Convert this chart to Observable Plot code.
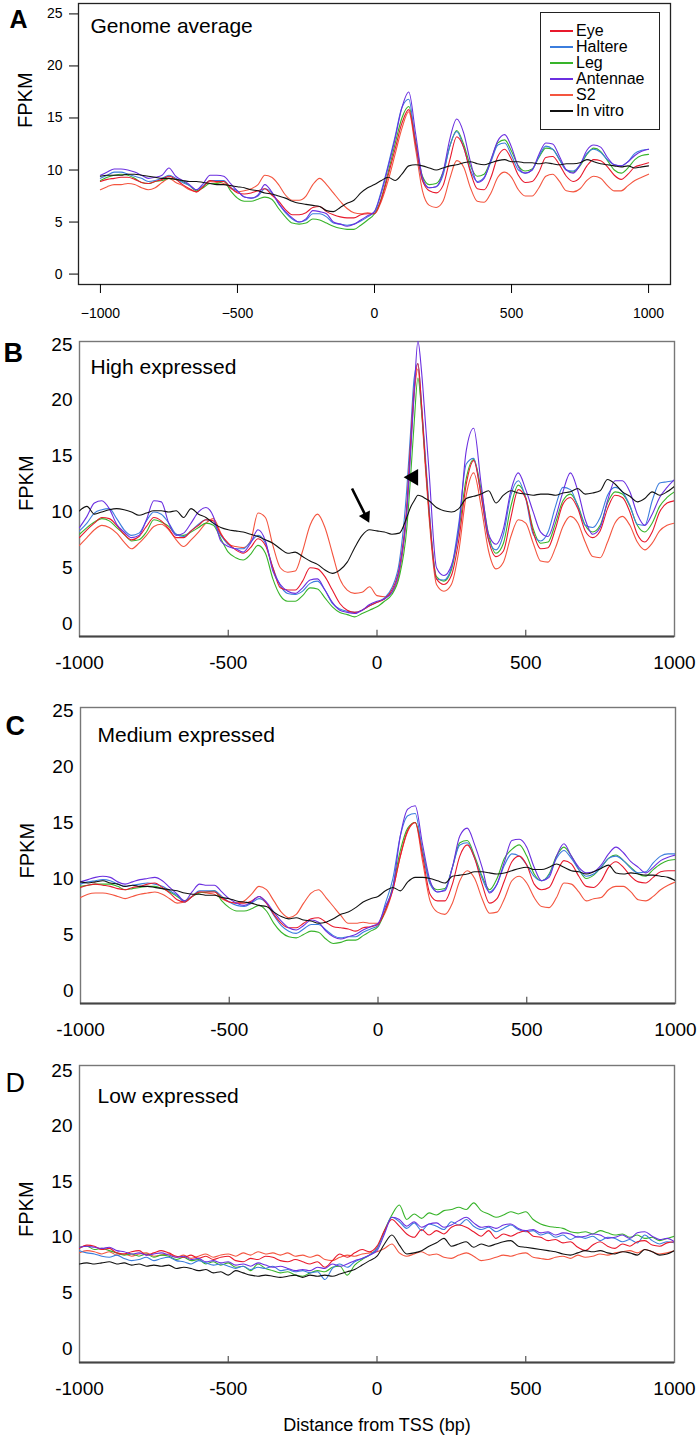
<!DOCTYPE html>
<html><head><meta charset="utf-8">
<script src="https://cdn.jsdelivr.net/npm/d3@7"></script>
<script src="https://cdn.jsdelivr.net/npm/@observablehq/plot@0.6"></script>
<style>
body{margin:0;background:#fff;font-family:"Liberation Sans",Arial,sans-serif;}
#root{position:relative;width:700px;height:1440px;overflow:hidden;}
.panel{position:absolute;left:0;}
.legend{position:absolute;left:540px;top:12px;width:120px;height:118px;border:1.2px solid #222;box-sizing:border-box;background:#fff;}
.legend .row{position:absolute;left:9px;height:16px;font-size:16px;line-height:16px;color:#000;white-space:nowrap;}
.legend .sw{position:absolute;left:0;top:7px;width:23px;height:1.6px;}
.legend .tx{position:absolute;left:26px;top:0;}
</style></head><body><div id="root"></div>
<script>
// ---------- data ----------
const seriesNames = ["Eye","Haltere","Leg","Antennae","S2","In vitro"];
const seriesColors = ["#e8192c","#3b7ddd","#38b42a","#6b2fe0","#f4553f","#111111"];

const positions = [-1000,-975,-950,-925,-900,-875,-850,-825,-800,-775,-750,-725,-700,-675,-650,-625,-600,-575,-550,-525,-500,-475,-450,-425,-400,-375,-350,-325,-300,-275,-250,-225,-200,-175,-150,-125,-100,-75,-50,-25,0,25,50,75,100,125,150,175,200,225,250,275,300,325,350,375,400,425,450,475,500,525,550,575,600,625,650,675,700,725,750,775,800,825,850,875,900,925,950,975,1000];
const positionsB = [-1000,-975,-950,-925,-900,-875,-850,-825,-800,-775,-750,-725,-700,-675,-650,-625,-600,-575,-550,-525,-500,-475,-450,-425,-400,-375,-350,-325,-300,-275,-250,-225,-200,-175,-150,-125,-100,-75,-50,-25,0,25,50,75,100,112.5,125,137.5,150,162.5,175,200,225,250,275,300,325,350,375,400,425,450,475,500,525,550,575,600,625,650,675,700,725,750,775,800,825,850,875,900,925,950,975,1000];

// Panel A: Genome average
const A_eye = [8.9,9.1,9.2,9.3,9.3,9.1,8.8,8.7,8.9,9.1, 9.4,9.1,8.6,8.2,7.9,8.4,9.0,8.9,8.9,8.3, 7.8,7.7,7.8,8.0,8.2,7.6,7.0,6.2,5.7,5.7, 5.9,6.4,6.5,6.0,5.7,5.5,5.4,5.4,5.7,5.8, 5.8,7.2,9.5,12.0,14.5,15.8,12.5,9.0,8.0,7.8, 8.5,11.0,13.2,12.2,9.8,8.2,8.1,9.3,11.3,12.0, 11.0,9.5,8.8,8.9,9.8,11.2,11.3,10.5,9.4,8.9, 9.3,10.4,11.0,10.9,10.3,9.5,9.1,9.6,10.3,10.5, 10.7];
const A_haltere = [9.2,9.5,9.8,9.8,9.6,9.4,9.2,8.9,9.0,9.2, 9.5,9.2,8.8,8.5,8.1,8.5,9.0,9.0,9.0,8.3, 8.0,7.4,7.3,7.5,8.2,7.8,6.8,5.9,5.3,5.0, 5.2,5.8,5.8,5.5,4.9,4.8,4.7,4.8,5.1,5.5, 6.0,8.0,10.5,13.2,16.0,16.8,12.5,9.0,8.3,8.4, 9.5,12.3,13.7,12.2,10.0,8.9,9.3,10.8,12.4,12.6, 11.4,10.0,9.7,10.0,11.3,12.3,12.0,11.0,10.0,9.9, 10.5,11.6,12.0,11.7,11.0,10.5,10.4,10.8,11.6,11.9, 12.0];
const A_leg = [9.0,9.3,9.5,9.6,9.5,9.2,8.8,8.7,8.9,9.0, 9.2,9.1,8.9,8.5,8.0,8.3,8.7,8.7,8.9,8.0, 7.3,7.0,7.0,7.2,7.4,7.2,6.3,5.5,4.9,4.8, 4.9,5.3,5.2,4.9,4.6,4.4,4.3,4.3,4.7,5.2, 5.8,7.3,9.8,12.5,15.0,16.1,12.8,9.4,8.6,8.7, 9.8,12.3,13.8,12.5,10.4,9.4,9.6,11.0,12.6,12.9, 11.8,10.4,9.9,10.1,11.2,12.1,12.0,11.0,10.0,9.8, 10.4,11.5,12.1,11.8,10.9,10.0,9.7,10.2,11.0,11.4, 11.5];
const A_antennae = [9.5,9.8,10.1,10.1,10.0,9.8,9.5,9.2,9.3,9.5, 10.2,9.4,9.0,8.6,8.1,8.7,9.5,9.5,9.4,8.7, 8.0,7.4,7.3,7.6,8.6,7.9,6.8,6.0,5.4,5.0, 5.3,6.1,6.0,5.8,5.0,4.8,4.6,4.8,5.2,5.6, 6.0,7.8,10.3,13.0,16.0,17.5,13.5,9.3,8.3,8.4, 9.8,13.0,14.9,13.6,10.8,8.8,9.2,11.0,12.8,13.4, 12.2,10.3,9.7,10.0,11.5,12.6,12.5,11.3,10.0,9.7, 10.5,11.9,12.4,12.2,11.2,10.5,10.4,10.8,11.4,11.8, 12.0];
const A_s2 = [8.1,8.4,8.6,8.6,8.7,8.6,8.3,8.1,8.3,8.8, 9.2,8.8,8.5,8.1,7.9,8.4,8.9,8.8,8.7,8.3, 7.9,8.0,8.2,8.6,9.5,9.3,8.6,7.6,7.1,7.1, 7.5,8.6,9.2,8.6,7.8,7.0,6.3,5.9,5.8,5.9, 5.8,7.0,9.0,11.5,14.0,15.6,12.0,8.0,6.6,6.4, 7.0,9.2,10.9,10.3,8.3,7.0,6.9,7.8,9.3,9.8, 9.3,8.1,7.5,7.5,8.3,9.4,9.6,8.9,8.0,7.9, 8.2,9.0,9.4,9.2,8.5,8.0,8.0,8.5,9.0,9.3, 9.6];
const A_invitro = [9.4,9.5,9.5,9.5,9.6,9.6,9.5,9.4,9.3,9.2, 9.2,9.1,9.0,8.9,8.9,8.8,8.7,8.6,8.6,8.5, 8.4,8.3,8.1,8.0,7.8,7.7,7.5,7.3,7.0,6.8, 6.7,6.6,6.5,6.1,6.0,6.4,6.8,7.1,7.8,8.3, 8.6,9.0,9.3,9.0,9.6,10.4,10.5,10.4,10.2,10.0, 10.2,10.4,10.5,10.7,10.8,10.6,10.5,10.7,10.9,11.0, 10.8,10.8,10.7,10.7,10.6,10.7,10.6,10.5,10.6,10.6, 10.7,11.0,10.8,10.6,10.5,10.4,10.3,10.4,10.2,10.3, 10.4];

// Panel B: High expressed (x = positionsB)
const B_eye = [7.7,8.4,9.0,9.5,9.4,8.8,8.0,7.5,7.8,8.7, 9.5,9.2,8.5,7.7,7.7,8.3,8.8,9.3,9.2,8.0, 7.2,6.6,6.3,6.8,7.6,7.0,5.0,3.2,3.0,3.0, 3.8,5.0,4.9,4.2,3.0,1.8,1.2,1.0,1.2,1.6, 1.9,2.2,3.0,5.0,10.5,16.0,21.0,23.3,19.5,14.5,10.0, 4.0,3.5,4.3,7.5,12.5,14.6,11.5,7.5,6.0,6.5, 9.5,12.0,11.2,8.2,6.7,6.8,8.5,10.7,11.3,10.3, 8.3,7.7,8.3,10.3,11.5,11.3,10.0,8.0,7.3,8.2, 10.0,10.8,11.0];
const B_haltere = [8.3,9.0,9.9,10.2,10.3,9.4,8.4,7.9,8.1,9.2, 10.0,9.8,9.0,8.0,7.8,8.3,8.9,9.3,9.0,7.9, 7.1,6.7,6.7,7.3,7.9,7.2,5.0,3.4,2.7,2.6, 2.9,3.6,3.8,3.0,1.8,1.3,1.1,1.0,1.2,1.6, 1.9,2.3,3.2,5.5,12.0,17.0,22.0,23.3,19.5,15.0,10.5, 4.0,3.9,5.0,9.0,14.3,14.8,11.5,7.5,6.6,8.0, 11.5,12.8,11.2,8.0,7.4,8.2,10.5,12.2,12.0,10.5, 8.8,8.6,9.5,11.5,12.2,11.8,10.6,8.9,8.8,11.0, 12.6,12.7,12.8];
const B_leg = [8.0,8.6,9.1,9.4,9.2,8.6,8.0,7.4,7.5,8.2, 9.3,9.1,8.7,8.0,7.9,8.2,8.6,9.0,8.8,7.6, 6.4,5.9,5.7,6.2,7.0,6.3,4.0,2.5,2.0,2.0, 2.5,3.2,3.1,2.3,1.5,1.0,0.8,0.6,0.9,1.2, 1.5,2.0,2.6,4.2,8.5,13.0,18.0,22.0,19.0,14.5,10.0, 4.2,3.8,4.8,8.3,13.0,14.7,12.0,8.0,6.3,7.2, 10.5,12.4,11.3,8.5,7.2,7.3,9.0,11.0,11.6,10.6, 8.8,8.2,8.8,10.8,11.8,11.6,10.5,8.8,8.2,9.0, 10.5,11.3,11.8];
const B_antennae = [8.6,9.6,10.8,11.0,10.3,8.9,8.2,7.7,7.9,9.3, 11.0,10.9,9.0,7.9,8.1,9.0,10.0,10.4,9.6,7.4, 6.9,6.7,6.4,7.2,8.4,7.4,4.7,3.5,2.9,2.7, 3.2,3.9,4.0,3.0,1.9,1.2,1.0,0.9,1.2,1.7, 2.0,2.2,2.8,4.8,10.0,15.1,20.7,25.3,22.5,18.1,13.6, 5.0,4.3,5.2,8.5,15.5,17.5,12.5,8.0,7.1,8.5, 11.9,13.5,12.0,10.0,8.2,7.8,9.5,11.8,13.5,11.9, 9.3,8.0,8.6,11.0,12.8,12.8,11.8,9.8,8.8,9.8, 11.3,12.2,12.9];
const B_s2 = [7.0,7.7,8.4,8.8,8.6,8.1,7.3,6.7,7.2,7.9, 8.7,8.9,8.4,7.5,6.9,7.5,8.2,9.0,9.4,8.1, 7.1,6.9,6.8,7.4,9.9,9.5,7.0,5.0,4.6,4.7, 6.5,8.8,9.8,8.6,6.3,4.0,3.0,2.7,2.8,3.3, 2.5,2.4,2.8,4.5,10.0,15.5,20.5,22.8,19.0,14.0,9.5, 3.5,2.9,3.5,6.5,11.5,13.5,10.5,6.5,4.9,5.5, 7.8,9.3,9.0,7.2,5.6,5.5,6.8,8.7,9.6,9.0, 7.3,6.0,5.9,7.3,9.0,9.6,8.8,7.3,6.6,7.2, 8.3,8.8,9.0];
const B_invitro = [10.1,10.5,9.8,10.0,10.2,10.3,10.2,10.0,9.7,9.9, 10.1,10.1,10.0,10.1,9.5,10.3,9.8,9.5,9.0,8.6, 8.4,8.3,8.2,8.0,7.8,7.5,7.2,6.7,6.3,6.4, 6.0,5.6,5.3,4.8,4.5,4.8,5.5,6.8,7.9,8.4, 8.3,8.2,8.0,8.1,9.5,10.4,11.0,11.5,11.4,11.2,11.0, 10.4,10.1,10.0,10.3,11.2,11.4,11.6,11.9,10.8,11.5, 11.9,11.7,11.6,11.5,11.6,11.6,11.5,11.7,11.8,12.1, 11.6,11.7,11.9,12.9,12.5,11.8,11.4,10.9,11.2,11.8, 11.5,11.8,12.3];

// Panel C: Medium expressed
const C_eye = [9.2,9.4,9.5,9.4,9.3,9.1,9.0,9.2,9.3,9.5, 9.6,9.2,8.7,8.1,7.9,8.4,8.8,8.8,8.8,8.3, 7.9,7.8,7.8,8.0,8.4,7.8,6.8,6.0,5.6,5.6, 6.0,6.4,6.5,6.1,5.7,5.6,5.5,5.3,5.6,5.7, 5.9,7.2,9.0,12.0,14.3,15.0,12.0,8.6,8.0,8.0, 9.5,12.0,13.0,11.8,9.5,7.8,8.2,9.8,11.5,12.0, 11.2,9.5,9.0,9.2,10.5,11.6,11.3,10.2,9.3,9.2, 9.8,11.0,11.5,11.0,10.2,9.7,9.6,10.1,10.6,10.7, 10.7];
const C_haltere = [9.5,9.7,9.8,9.9,9.8,9.5,9.3,9.4,9.5,9.6, 9.5,9.3,8.9,8.5,7.9,8.4,8.9,8.9,8.9,8.4, 7.9,7.6,7.5,7.8,8.2,7.8,6.7,5.8,5.3,5.1, 5.5,5.9,5.9,5.4,4.9,4.7,4.8,4.8,5.2,5.5, 5.8,7.8,10.0,13.8,15.6,15.8,12.3,9.5,8.8,9.0, 11.0,13.0,13.2,11.8,10.0,8.8,9.5,11.2,12.2,12.0, 11.2,10.2,9.8,10.3,11.8,12.5,11.8,10.8,10.2,10.4, 11.0,11.8,12.0,11.6,10.9,10.5,10.6,11.4,12.0,12.2, 12.2];
const C_leg = [9.3,9.4,9.5,9.5,9.5,9.3,9.0,9.1,9.2,9.3, 9.3,9.1,8.8,8.4,8.0,8.4,8.7,8.8,8.9,8.0, 7.4,7.1,7.1,7.3,7.6,7.1,6.0,5.2,4.8,4.7, 5.0,5.3,5.2,4.6,4.2,4.3,4.5,4.5,4.9,5.3, 5.7,7.2,9.3,12.5,14.5,15.0,12.5,9.6,9.0,9.1, 11.0,13.2,13.4,12.0,10.2,9.0,10.0,11.8,12.6,13.0, 12.0,10.4,9.8,10.4,12.0,12.8,12.0,10.8,10.0,10.3, 11.0,11.8,12.1,11.6,11.0,10.4,10.2,10.8,11.3,11.6, 11.7];
const C_antennae = [9.7,9.9,10.1,10.2,10.1,9.7,9.5,9.7,9.9,10.0, 10.1,9.8,9.2,8.6,8.0,8.8,9.5,9.4,9.4,8.8, 8.2,7.8,7.6,7.9,8.4,7.9,7.0,6.2,5.6,5.4, 5.8,6.3,6.1,5.3,4.8,4.6,4.8,5.0,5.4,5.7, 6.0,7.5,9.2,13.8,16.2,16.5,13.0,9.8,8.8,8.9, 11.0,13.8,14.5,13.0,11.0,8.7,9.5,11.5,13.4,13.5, 12.8,11.0,9.8,10.1,12.0,13.1,12.0,11.0,10.5,10.6, 11.2,12.2,12.8,12.3,11.5,11.0,10.5,11.0,11.6,11.9, 12.1];
const C_s2 = [8.3,8.6,8.7,8.7,8.6,8.4,8.2,8.4,8.6,8.7, 8.8,8.6,8.2,7.8,7.9,8.4,8.8,8.7,8.6,8.2, 7.9,7.8,8.0,8.6,9.3,9.0,8.0,7.0,6.5,6.8, 7.8,8.7,9.0,8.3,7.5,6.7,6.0,6.0,6.1,6.0, 6.0,7.0,9.0,12.0,14.2,15.0,11.5,8.0,7.0,6.8, 7.8,9.8,10.7,10.0,8.2,6.9,7.0,8.2,9.8,10.2, 9.6,8.3,7.5,7.4,8.3,9.6,9.5,8.8,8.0,8.2, 8.3,9.0,9.3,9.3,8.8,8.1,8.0,8.4,9.0,9.4, 9.7];
const C_invitro = [9.7,9.6,9.7,9.8,9.6,9.5,9.3,9.4,9.3,9.3, 9.2,9.1,9.0,8.9,8.7,8.6,8.6,8.5,8.5,8.3, 8.2,8.0,7.9,7.8,7.6,7.5,7.0,6.6,6.4,6.5, 6.3,6.2,6.0,6.1,6.4,6.8,7.0,7.4,7.9,8.2, 8.4,8.9,9.2,8.9,9.7,10.1,10.1,10.0,9.8,9.6, 10.2,10.3,10.4,10.6,10.6,10.5,10.4,10.5,10.7,10.9, 11.0,10.8,10.8,11.0,11.3,11.0,10.7,10.6,10.4,10.6, 10.9,11.2,10.5,10.4,10.5,10.4,10.3,10.3,10.2,10.1, 9.8];

// Panel D: Low expressed
const D_eye = [9.0,9.3,9.2,8.9,9.0,8.6,8.5,8.7,8.8,8.4, 8.6,8.8,8.6,8.3,8.2,8.4,8.1,8.3,8.0,8.2, 8.3,7.9,7.8,8.1,8.0,8.3,8.2,7.9,7.8,8.0, 7.8,7.6,7.8,7.3,7.9,8.5,8.2,8.6,8.9,8.7, 9.2,10.6,11.6,11.0,10.3,10.0,10.7,10.2,10.6,10.3, 10.9,11.1,10.9,10.5,10.1,10.6,9.9,10.3,10.1,10.4, 10.6,10.1,10.0,9.7,9.8,9.5,9.6,9.1,8.8,9.3, 9.6,9.2,9.0,9.4,9.2,9.6,9.7,9.3,9.2,9.5, 9.6];
const D_haltere = [8.8,8.6,8.5,8.3,8.2,8.4,8.1,7.9,8.0,8.2, 7.9,8.1,8.2,7.9,7.8,7.6,7.9,7.7,7.5,7.6, 7.4,7.2,7.4,7.1,7.3,7.2,7.4,7.0,7.1,6.9, 7.0,6.8,6.9,6.2,7.2,7.6,7.3,7.8,8.1,8.4, 9.0,10.5,11.8,11.4,10.8,11.3,10.6,11.2,11.0,10.7, 11.4,11.1,11.6,11.0,10.7,10.9,10.5,10.8,11.1,10.7, 10.5,10.6,10.2,10.4,10.0,10.2,9.8,10.1,9.9,10.1, 9.7,10.0,9.9,9.6,9.8,9.5,10.2,9.7,9.4,9.6, 9.5];
const D_leg = [9.1,9.2,8.9,9.0,8.8,8.6,8.4,8.5,8.3,8.5, 8.2,8.4,8.3,8.0,8.2,7.9,8.0,7.6,7.8,7.5, 7.7,7.3,7.4,7.0,7.6,7.2,7.0,6.8,6.9,6.6, 6.5,6.8,7.0,6.9,7.3,7.4,6.6,7.5,8.0,8.4, 9.0,10.6,12.0,12.9,11.6,12.1,11.7,12.2,12.0,12.4, 12.5,12.7,12.5,13.1,12.4,12.1,11.8,12.0,12.3,12.1, 12.3,11.6,11.2,11.0,10.9,10.8,10.5,10.4,10.5,10.3, 10.6,10.4,10.2,10.3,10.0,10.2,9.9,10.0,9.7,9.9, 10.1];
const D_antennae = [9.1,9.2,9.1,9.0,9.1,8.8,8.7,8.5,8.6,8.4, 8.5,8.6,8.4,8.2,8.3,8.0,8.1,7.8,7.9,7.7, 7.8,7.5,7.6,7.4,7.7,7.5,7.3,7.4,7.2,7.0, 7.1,7.0,7.3,7.2,7.6,7.4,7.6,7.9,8.1,8.4, 8.8,10.3,11.8,11.6,11.0,11.4,10.9,11.2,11.3,10.9, 11.1,11.5,11.8,11.3,10.9,11.0,10.8,11.1,11.2,10.8, 10.6,10.7,10.4,10.5,10.2,10.4,10.3,10.0,10.1,10.3, 10.2,9.9,10.0,10.2,9.9,10.4,10.5,10.1,9.8,9.9, 9.6];
const D_s2 = [8.6,8.8,8.7,8.5,8.7,8.4,8.5,8.3,8.5,8.6, 8.3,8.4,8.5,8.2,8.4,8.1,8.3,8.5,8.2,8.4, 8.5,8.3,8.6,8.4,8.7,8.5,8.6,8.4,8.6,8.3, 8.4,8.2,8.4,8.0,7.9,8.2,8.4,8.3,8.5,8.6, 8.7,9.0,9.4,8.6,8.3,8.5,8.7,8.4,8.5,8.2, 8.1,8.4,8.6,8.3,7.9,8.0,8.2,8.4,8.3,8.5, 8.6,8.2,8.1,8.0,8.2,8.3,8.1,8.4,8.2,8.3, 8.5,8.4,8.6,8.7,8.8,8.6,8.9,8.7,8.5,8.6, 8.8];
const D_invitro = [7.6,7.7,7.6,7.7,7.8,7.6,7.7,7.5,7.6,7.4, 7.5,7.4,7.5,7.2,7.3,7.2,7.0,7.1,6.8,6.9, 6.6,7.0,6.8,6.6,6.5,6.6,6.5,6.4,6.5,6.6, 6.4,6.6,6.5,6.6,6.5,6.7,6.9,7.1,7.5,7.9, 8.3,9.4,10.2,9.3,8.5,8.6,8.8,9.2,9.5,9.9, 9.2,9.4,9.6,9.1,9.4,9.2,9.4,9.6,9.7,9.2, 9.1,9.0,8.9,8.8,8.7,8.5,8.4,8.6,8.8,8.7, 8.8,8.6,8.5,8.7,8.6,8.4,8.9,8.7,8.4,8.5, 8.8];

// annotations in panel B (data units)
const arrowB = {x1: -84, y1: 12.1, x2: -37, y2: 9.6, tipAngle: 153};
const arrowheadB = {x: 122, y: 13.1, angle: -90};

const yTicks = [0,5,10,15,20,25];
const xTicks = [-1000,-500,0,500,1000];

// ---------- drawing ----------
const fam = '"Liberation Sans", Arial, sans-serif';
const drawOrder = ["S2","Leg","Haltere","Eye","Antennae","In vitro"];
const colorOf = Object.fromEntries(seriesNames.map((s,i)=>[s, seriesColors[i]]));

const panels = [
  {letter:"A", bold:true, letterSize:25, title:"Genome average", top:0, height:330, ml:78, mr:30, mt:3, mb:46,
   xdom:[-1080,1080], ydom:[-1,26], r:true, xs:positions,
   series:{"Eye":A_eye,"Haltere":A_haltere,"Leg":A_leg,"Antennae":A_antennae,"S2":A_s2,"In vitro":A_invitro},
   letterPos:[-69,7], titlePos:[12,15], fpkm:[-53,-16]},
  {letter:"B", bold:true, letterSize:27, title:"High expressed", top:330, height:370, ml:79, mr:26, mt:11, mb:64,
   xdom:[-1000,1000], ydom:[-1.16,25.27], xs:positionsB,
   series:{"Eye":B_eye,"Haltere":B_haltere,"Leg":B_leg,"Antennae":B_antennae,"S2":B_s2,"In vitro":B_invitro},
   letterPos:[-76,1], titlePos:[11,18], fpkm:[-53,22], annot:true},
  {letter:"C", bold:true, letterSize:27, title:"Medium expressed", top:700, height:360, ml:80, mr:25, mt:7, mb:57,
   xdom:[-1000,1000], ydom:[-1.16,25.27], xs:positions,
   series:{"Eye":C_eye,"Haltere":C_haltere,"Leg":C_leg,"Antennae":C_antennae,"S2":C_s2,"In vitro":C_invitro},
   letterPos:[-75,8], titlePos:[17,20], fpkm:[-53,23]},
  {letter:"D", bold:false, letterSize:27, title:"Low expressed", top:1060, height:380, ml:79, mr:26, mt:5, mb:78,
   xdom:[-1000,1000], ydom:[-1.26,25.45], xs:positions,
   series:{"Eye":D_eye,"Haltere":D_haltere,"Leg":D_leg,"Antennae":D_antennae,"S2":D_s2,"In vitro":D_invitro},
   letterPos:[-74,7], titlePos:[18,23], fpkm:[-53,23], xlabel:"Distance from TSS (bp)"}
];

const root = document.getElementById("root");
const problems = [];

for (const p of panels) {
  const marks = [];
  if (p.r) {
    marks.push(Plot.frame({stroke:"#222", strokeWidth:1.3}));
  } else {
    marks.push(Plot.frame({stroke:"#777", strokeWidth:1.4}));
    marks.push(Plot.ruleY([p.ydom[0]], {stroke:"#444", strokeWidth:2}));
    marks.push(Plot.ruleX([-500,0,500], {y1:p.ydom[0], y2:p.ydom[0]+0.55, stroke:"#555", strokeWidth:1.2}));
  }
  for (const name of drawOrder) {
    const vals = p.series[name];
    if (vals.length !== p.xs.length) problems.push(`${p.letter} ${name}: ${vals.length} vs ${p.xs.length}`);
    const rows = p.xs.map((x,i)=>({x, y: vals[i]})).filter(d=>d.y!=null);
    marks.push(Plot.line(rows, {x:"x", y:"y", stroke: colorOf[name], strokeWidth:1.1, curve:"monotone-x", clip:true}));
  }
  if (p.r) {
    marks.push(Plot.axisY(yTicks, {tickSize:9, tickPadding:7, fontSize:14, label:null}));
    marks.push(Plot.axisX(xTicks, {tickSize:9, tickPadding:15, fontSize:14, label:null,
      tickFormat: d => (d<0 ? "\u2212" : "") + Math.abs(d)}));
  } else {
    marks.push(Plot.axisY(yTicks, {tickSize:0, tickPadding:7, fontSize:19, label:null}));
    marks.push(Plot.axisX(xTicks, {tickSize:0, tickPadding:19, fontSize:19, label:null, tickFormat: d => String(d)}));
  }
  marks.push(Plot.text([p.title], {frameAnchor:"top-left", dx:p.titlePos[0], dy:p.titlePos[1], lineAnchor:"top", textAnchor:"start", fontSize:21, fill:"#000"}));
  marks.push(Plot.text([p.letter], {frameAnchor:"top-left", dx:p.letterPos[0], dy:p.letterPos[1], lineAnchor:"top", textAnchor:"start", fontSize:p.letterSize, fontWeight:p.bold?"bold":"normal", fill:"#000"}));
  marks.push(Plot.text(["FPKM"], {frameAnchor:"left", dx:p.fpkm[0], dy:p.fpkm[1], rotate:-90, fontSize:20, fill:"#000"}));
  if (p.xlabel) {
    marks.push(Plot.text([p.xlabel], {frameAnchor:"bottom", dy:56, lineAnchor:"top", fontSize:18, fill:"#000"}));
  }
  if (p.annot) {
    marks.push(Plot.link([arrowB], {x1:"x1", y1:"y1", x2:"x2", y2:"y2", stroke:"#000", strokeWidth:2.6}));
    marks.push(Plot.dot([arrowB], {x:"x2", y:"y2", symbol:"triangle", r:4.6, fill:"#000", stroke:"none", rotate:"tipAngle"}));
    marks.push(Plot.dot([arrowheadB], {x:"x", y:"y", symbol:"triangle", r:6.2, fill:"#000", stroke:"none", rotate:"angle"}));
  }
  const svg = Plot.plot({
    width:700, height:p.height,
    marginLeft:p.ml, marginRight:p.mr, marginTop:p.mt, marginBottom:p.mb,
    x:{domain:p.xdom}, y:{domain:p.ydom},
    style:{fontFamily:fam, fontSize:"14px", background:"transparent", overflow:"visible", color:"#000"},
    marks
  });
  const div = document.createElement("div");
  div.className = "panel";
  div.style.top = p.top + "px";
  div.appendChild(svg);
  root.appendChild(div);

  if (p.r) {
    const lg = document.createElement("div");
    lg.className = "legend";
    seriesNames.forEach((s,i)=>{
      const row = document.createElement("div");
      row.className = "row";
      row.style.top = (10 + i*16) + "px";
      const sw = document.createElement("div");
      sw.className = "sw"; sw.style.background = seriesColors[i];
      const tx = document.createElement("div");
      tx.className = "tx";
      tx.textContent = s;
      row.appendChild(sw); row.appendChild(tx);
      lg.appendChild(row);
    });
    root.appendChild(lg);
  }
}
if (problems.length) {
  const e = document.createElement("div");
  e.style.cssText = "position:absolute;left:200px;top:600px;color:red;font-size:14px;background:#fff";
  e.textContent = "LENGTH MISMATCH: " + problems.join("; ");
  root.appendChild(e);
}
</script></body></html>
